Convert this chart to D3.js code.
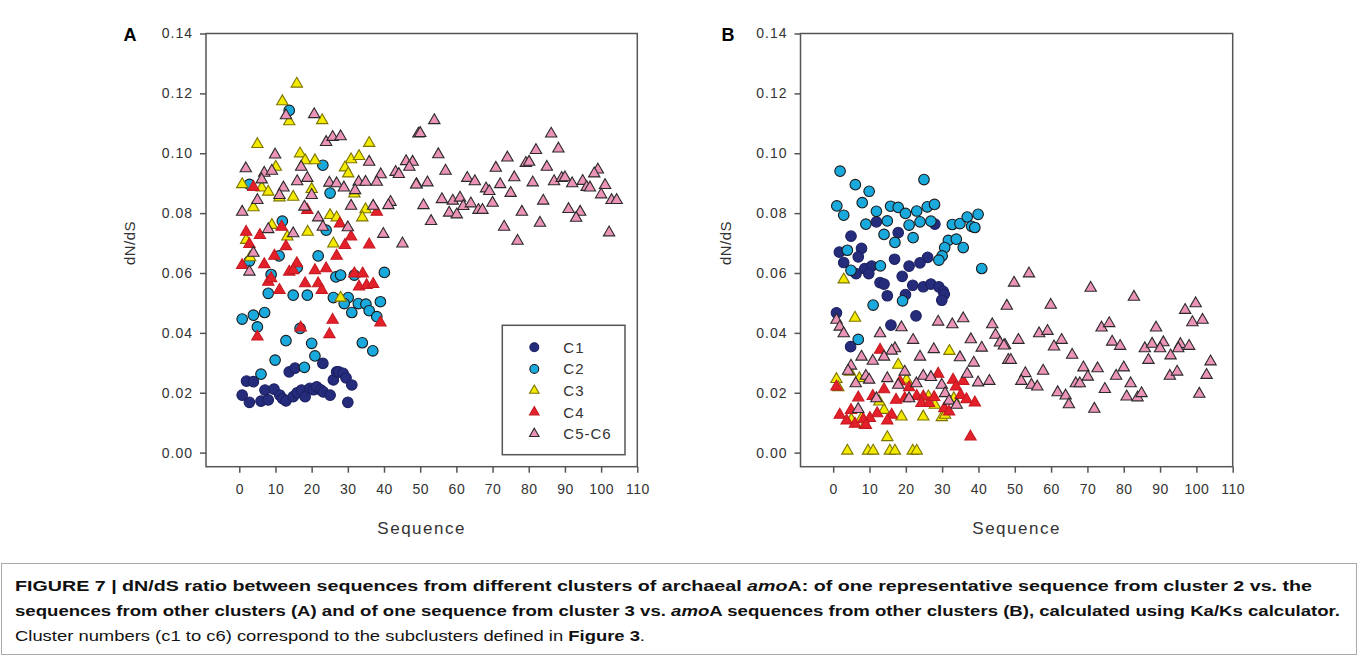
<!DOCTYPE html>
<meta charset="utf-8">
<style>
body { margin: 0; background: #fff; }
svg { font-family: "Liberation Sans", Arial, sans-serif; }
.frame { fill: none; stroke: #555; stroke-width: 1.5px; }
.axis path { display: none; }
.axis line { stroke: #555; stroke-width: 1.5px; }
.axis text { fill: #333; font-size: 14px; font-family: "Liberation Sans", Arial, sans-serif; }
.title { fill: #333; }
.cap { font-size: 15.5px; fill: #111; }
</style>
<svg width="1358" height="656"></svg>
<script src="https://cdn.jsdelivr.net/npm/d3@7"></script>
<script>

// ---- data (sequence, dN/dS) ----
var xTicks = [0, 10, 20, 30, 40, 50, 60, 70, 80, 90, 100, 110],
    yTicks = [0, 0.02, 0.04, 0.06, 0.08, 0.10, 0.12, 0.14],
    seriesNames = ["C1", "C2", "C3", "C4", "C5-C6"];

var aC1 = [[0.8,0.0192],[2.8,0.0168],[2.0,0.0239],[3.9,0.0237],[6.0,0.0172],[7.1,0.0209],[8.0,0.0176],[9.6,0.0212],[11.2,0.0192],[12.0,0.018],[12.9,0.0173],[13.8,0.0270],[15.4,0.0282],[14.9,0.0187],[16.0,0.020],[17.2,0.0209],[18.2,0.0187],[19.5,0.0215],[20.5,0.021],[21.4,0.0220],[22.5,0.021],[23.1,0.0298],[23.2,0.0203],[25.1,0.0192],[26.0,0.0243],[26.9,0.0270],[27.5,0.027],[28.7,0.0265],[29.5,0.025],[30.0,0.0168],[31.1,0.0226]];

var aC2 = [[13.8,0.1143],[23.1,0.0960],[2.8,0.0896],[25.1,0.0867],[11.9,0.0773],[24.0,0.0743],[11.0,0.0657],[16.0,0.0618],[21.8,0.0657],[2.8,0.0640],[8.8,0.0595],[26.7,0.0587],[28.0,0.0593],[31.8,0.0593],[40.1,0.0602],[8.0,0.0532],[14.9,0.0526],[18.8,0.0526],[26.0,0.0518],[30.1,0.0518],[29.0,0.0498],[32.9,0.0498],[35.0,0.0496],[39.0,0.0504],[31.1,0.0468],[35.9,0.0474],[38.0,0.0454],[0.8,0.0446],[3.9,0.0459],[7.0,0.0468],[5.0,0.0420],[16.8,0.0415],[12.9,0.0374],[20.0,0.0365],[34.0,0.0367],[36.9,0.0340],[20.9,0.0323],[9.9,0.0309],[18.0,0.0285],[6.0,0.0262]];

var aC3 = [[15.9,0.1232],[11.9,0.1173],[13.8,0.1106],[22.9,0.1110],[5.0,0.1030],[35.9,0.1034],[16.8,0.0999],[18.2,0.0976],[20.9,0.0976],[30.9,0.0979],[33.1,0.0990],[29.2,0.0952],[30.1,0.0932],[10.1,0.0954],[0.8,0.0896],[6.2,0.0885],[8.0,0.0871],[11.1,0.0852],[14.9,0.0854],[20.0,0.0880],[3.9,0.0819],[31.8,0.0865],[25.1,0.0793],[26.9,0.0785],[34.9,0.0812],[34.0,0.0785],[9.0,0.0760],[18.9,0.0737],[13.3,0.0721],[1.9,0.0710],[26.0,0.0698],[3.0,0.0652],[28.0,0.0517]];

var aC4 = [[3.9,0.0887],[18.8,0.0810],[38.0,0.0804],[27.8,0.0765],[11.7,0.0754],[1.9,0.0737],[5.7,0.0726],[30.9,0.0721],[12.9,0.0689],[2.8,0.0696],[29.2,0.0693],[35.9,0.0695],[26.9,0.0657],[9.7,0.0657],[0.8,0.0626],[6.9,0.0629],[13.8,0.0604],[15.9,0.0632],[14.9,0.0609],[20.9,0.0609],[24.0,0.0615],[31.8,0.0598],[34.1,0.0598],[8.0,0.0570],[8.8,0.0582],[11.1,0.0543],[18.2,0.0565],[21.8,0.0565],[22.8,0.0543],[33.1,0.0554],[35.2,0.0559],[37.0,0.0563],[25.8,0.0443],[24.9,0.0395],[17.0,0.0417],[5.0,0.0387],[39.0,0.0434]];

var aC56 = [[12.9,0.1126],[20.7,0.1130],[24.0,0.1037],[25.8,0.1054],[28.0,0.1056],[49.5,0.1065],[9.9,0.0995],[1.8,0.0949],[6.9,0.0934],[9.0,0.0941],[17.1,0.0954],[16.0,0.0906],[18.8,0.0917],[24.9,0.0901],[26.9,0.0899],[28.9,0.0885],[33.0,0.0904],[34.9,0.0904],[39.1,0.0929],[35.9,0.0971],[43.2,0.0937],[44.1,0.0930],[46.1,0.0973],[47.9,0.0971],[47.0,0.0954],[49.0,0.0896],[38.0,0.0904],[32.0,0.0876],[12.2,0.0885],[11.1,0.0860],[6.2,0.0912],[20.0,0.0860],[5.0,0.0843],[0.8,0.0804],[18.0,0.0821],[30.9,0.0824],[37.0,0.0824],[41.8,0.0837],[41.2,0.0826],[21.8,0.0785],[23.1,0.0754],[30.0,0.0752],[39.8,0.0730],[45.1,0.0698],[8.0,0.0746],[14.9,0.0732],[3.9,0.0667],[2.8,0.0604],
  [53.9,0.1110],[50.0,0.1067],[55.0,0.0996],[57.0,0.0941],[48.9,0.0895],[52.0,0.0902],[50.9,0.0826],[53.0,0.0773],[56.0,0.0846],[59.0,0.0841],[61.0,0.0851],[63.0,0.0917],[65.1,0.0906],[61.9,0.0823],[64.0,0.0832],[58.0,0.0801],[60.1,0.0795],[66.1,0.0810],[67.2,0.0810],[68.2,0.0882],[69.1,0.0873],[70.0,0.0834],[70.9,0.0951],[72.1,0.0896],[74.1,0.0985],[75.0,0.0867],[76.0,0.0919],[73.2,0.0754],[76.9,0.0707],[78.1,0.0804],[79.2,0.0967],[80.1,0.0971],[82.0,0.1010],[81.1,0.0902],[84.0,0.0841],[83.1,0.0767],[85.0,0.0954],[86.2,0.1065],[88.2,0.1015],[87.0,0.0906],[89.1,0.0917],[90.0,0.0919],[92.0,0.0899],[94.9,0.0907],[96.0,0.0887],[96.9,0.0885],[99.1,0.0945],[98.1,0.0932],[101.1,0.0893],[100.0,0.0862],[102.9,0.0843],[104.3,0.0843],[91.0,0.0813],[94.2,0.0804],[93.1,0.0784],[102.2,0.0735]];

var bC1 = [[11.9,0.0771],[28.0,0.0763],[4.9,0.0723],[17.9,0.0735],[1.7,0.0670],[7.8,0.0682],[6.9,0.0654],[2.9,0.0635],[16.9,0.0646],[26.0,0.0652],[23.9,0.0634],[20.9,0.0623],[8.7,0.0615],[10.6,0.0623],[9.8,0.0598],[6.3,0.0598],[19.0,0.0589],[12.9,0.0568],[14.0,0.0563],[21.9,0.0559],[24.8,0.0554],[26.9,0.0563],[29.1,0.0554],[30.3,0.0539],[30.6,0.0529],[14.9,0.0524],[19.9,0.0528],[29.9,0.0509],[0.9,0.0467],[22.8,0.0457],[15.9,0.0426],[4.8,0.0354]];

var bC2 = [[1.9,0.0940],[25.0,0.0912],[6.1,0.0895],[9.9,0.0873],[1.0,0.0824],[8.0,0.0835],[2.9,0.0793],[11.9,0.0806],[15.8,0.0823],[17.9,0.0819],[19.9,0.0799],[23.0,0.0807],[25.9,0.0821],[27.9,0.0829],[9.0,0.0763],[14.9,0.0774],[20.9,0.0760],[23.9,0.0771],[26.9,0.0773],[32.8,0.0762],[34.9,0.0765],[36.9,0.0787],[39.9,0.0796],[38.1,0.0756],[39.0,0.0752],[14.0,0.0729],[17.0,0.0702],[22.0,0.0718],[31.7,0.0709],[33.9,0.0713],[30.7,0.0685],[35.8,0.0685],[30.0,0.0657],[29.1,0.0643],[3.9,0.0676],[13.0,0.0624],[4.9,0.0609],[40.9,0.0615],[11.0,0.0493],[19.1,0.0507],[6.9,0.0378]];

var bC3 = [[2.9,0.0578],[6.0,0.0450],[32.0,0.0339],[17.9,0.0293],[0.9,0.0245],[1.4,0.0218],[4.6,0.0270],[7.2,0.0248],[20.2,0.0243],[26.2,0.0187],[28.0,0.0159],[33.2,0.0181],[14.0,0.0142],[12.7,0.0170],[18.8,0.0120],[24.8,0.0120],[29.9,0.0118],[30.8,0.0126],[8.7,0.0092],[7.8,0.0115],[5.0,0.0110],[14.9,0.0051],[3.9,0.0006],[9.6,0.0006],[11.0,0.0006],[15.6,0.0006],[17.0,0.0006],[21.9,0.0006],[23.0,0.0006]];

var bC4 = [[12.9,0.0343],[0.9,0.0220],[6.9,0.0184],[14.0,0.0211],[10.9,0.0189],[28.9,0.0263],[18.4,0.0237],[20.9,0.0218],[23.0,0.0189],[24.8,0.0187],[24.3,0.0165],[26.4,0.0165],[27.8,0.0185],[33.0,0.0243],[35.8,0.0239],[33.8,0.0220],[35.1,0.0192],[36.7,0.0178],[39.0,0.0167],[30.6,0.0148],[31.9,0.0137],[19.7,0.0181],[17.3,0.0176],[16.1,0.0126],[14.9,0.0107],[12.1,0.0131],[10.1,0.0115],[8.3,0.0111],[6.0,0.0096],[3.7,0.0107],[1.8,0.0126],[4.9,0.0142],[37.8,0.0053],[9.0,0.0092]];

var bC56 = [[0.9,0.0443],[1.8,0.0420],[2.9,0.0398],[18.8,0.0418],[12.9,0.0398],[28.9,0.0437],[32.8,0.0428],[35.8,0.0448],[43.8,0.0428],[44.7,0.0393],[45.9,0.0367],[47.3,0.0359],[37.9,0.0378],[22.0,0.0376],[17.0,0.0348],[16.1,0.0340],[27.7,0.0345],[40.9,0.0350],[7.8,0.0320],[10.9,0.0306],[14.0,0.0320],[23.9,0.0320],[34.9,0.0318],[38.7,0.0300],[48.2,0.0309],[4.9,0.0290],[4.1,0.0273],[19.7,0.0270],[36.9,0.0263],[9.0,0.0256],[6.2,0.0231],[9.9,0.0243],[14.9,0.0248],[24.8,0.0256],[26.9,0.0252],[17.9,0.0226],[22.9,0.0231],[29.9,0.0226],[39.9,0.0234],[43.0,0.0239],[11.9,0.0181],[20.9,0.0181],[30.8,0.0198],[31.9,0.0173],[34.0,0.0159],[6.9,0.0145],
  [53.9,0.0598],[49.8,0.0567],[70.9,0.0550],[82.8,0.0520],[47.8,0.0490],[59.9,0.0493],[99.8,0.0498],[96.9,0.0476],[98.9,0.0435],[101.7,0.0443],[47.0,0.0357],[51.0,0.0376],[56.7,0.0398],[59.0,0.0406],[62.9,0.0376],[60.8,0.0354],[73.9,0.0417],[76.0,0.0432],[88.9,0.0417],[76.8,0.0370],[79.0,0.0356],[85.8,0.0348],[87.8,0.0363],[90.9,0.0368],[90.0,0.0348],[92.9,0.0324],[95.6,0.0362],[98.0,0.0356],[95.0,0.0348],[86.8,0.0309],[48.9,0.0309],[65.8,0.0326],[57.8,0.0273],[52.9,0.0265],[51.8,0.0239],[54.6,0.0226],[56.2,0.0220],[68.9,0.0284],[72.8,0.0281],[70.1,0.0253],[66.8,0.0231],[67.9,0.0231],[80.0,0.0284],[77.9,0.0256],[81.9,0.0231],[74.8,0.0212],[61.8,0.0201],[64.0,0.0190],[64.9,0.0161],[71.9,0.0146],[80.8,0.0187],[83.8,0.0184],[84.9,0.0198],[92.7,0.0256],[94.7,0.0270],[100.8,0.0196],[102.8,0.0259],[103.9,0.0304]];

// ---- styling per series ----
var styles = [
  {shape: d3.symbolCircle,   size: 88, fill: "#262c7c", stroke: "#1c2163"},
  {shape: d3.symbolCircle,   size: 88, fill: "#19a9dc", stroke: "#1a1a1a"},
  {shape: d3.symbolTriangle, size: 56, fill: "#f3ea00", stroke: "#7d7400"},
  {shape: d3.symbolTriangle, size: 56, fill: "#e4202a", stroke: "#c51a22"},
  {shape: d3.symbolTriangle, size: 56, fill: "#ec93b8", stroke: "#2a2a2a"}
];

var svg = d3.select("svg");

function drawPanel(opt, data) {
  var x = d3.scaleLinear().domain([opt.xmin, 110]).range([opt.left, opt.right]),
      y = d3.scaleLinear().domain([-0.0047, 0.14]).range([466.7, 33.5]);

  var g = svg.append("g");

  g.append("g")
      .attr("class", "axis")
      .attr("transform", "translate(" + opt.left + ",0)")
      .call(d3.axisLeft(y).tickValues(yTicks).tickSize(6).tickPadding(7).tickFormat(d3.format(".2f")))
    .selectAll("text")
      .style("letter-spacing", "1px");

  g.append("g")
      .attr("class", "axis")
      .attr("transform", "translate(0,466.7)")
      .call(d3.axisBottom(x).tickValues(xTicks).tickSize(6).tickPadding(11))
    .selectAll("text")
      .style("letter-spacing", "0.5px");

  g.append("rect")
      .attr("class", "frame")
      .attr("x", opt.left)
      .attr("y", 33.5)
      .attr("width", opt.right - opt.left)
      .attr("height", 466.7 - 33.5);

  data.forEach(function(pts, i) {
    var s = styles[i];
    g.append("g").selectAll("path")
        .data(pts)
      .enter().append("path")
        .attr("transform", function(d) { return "translate(" + x(d[0]) + "," + y(d[1]) + ")"; })
        .attr("d", d3.symbol(s.shape, s.size))
        .attr("fill", s.fill)
        .attr("stroke", s.stroke)
        .attr("stroke-width", 1.1);
  });

  g.append("text")
      .attr("class", "title")
      .attr("x", (opt.left + opt.right) / 2)
      .attr("y", 534)
      .attr("text-anchor", "middle")
      .style("font-size", "17px")
      .style("letter-spacing", "1.5px")
      .text("Sequence");

  g.append("text")
      .attr("class", "title")
      .attr("transform", "translate(" + (opt.ylab + 5) + ",243) rotate(-90)")
      .attr("text-anchor", "middle")
      .style("font-size", "15px")
      .style("letter-spacing", "0.5px")
      .text("dN/dS");

  g.append("text")
      .attr("x", opt.letter)
      .attr("y", 41)
      .attr("text-anchor", "middle")
      .style("font-size", "18px")
      .style("font-weight", "bold")
      .text(opt.label);

  return {x: x, y: y, g: g};
}

var pa = drawPanel({left: 206, right: 637.3, xmin: -9.2, ylab: 130, letter: 130, label: "A"},
                   [aC1, aC2, aC3, aC4, aC56]);
drawPanel({left: 800.5, right: 1232.7, xmin: -9.0, ylab: 726, letter: 728, label: "B"},
          [bC1, bC2, bC3, bC4, bC56]);

// legend (panel A)
var legend = svg.append("g");
legend.append("rect")
    .attr("x", 502.3).attr("y", 325.3)
    .attr("width", 122.7).attr("height", 129.4)
    .attr("fill", "#fff").attr("stroke", "#555").attr("stroke-width", 1.5);

var item = legend.selectAll(".item")
    .data(seriesNames)
  .enter().append("g")
    .attr("transform", function(d, i) { return "translate(534.3," + (347.3 + i * 21.6) + ")"; });

item.append("path")
    .attr("d", function(d, i) { return d3.symbol(styles[i].shape, styles[i].size * 0.7)(); })
    .attr("fill", function(d, i) { return styles[i].fill; })
    .attr("stroke", function(d, i) { return styles[i].stroke; })
    .attr("stroke-width", 1.1);

item.append("text")
    .attr("x", 29)
    .attr("y", 5.5)
    .attr("fill", "#333")
    .style("font-size", "15px")
    .style("letter-spacing", "1px")
    .text(function(d) { return d; });

// caption
svg.append("rect")
    .attr("x", 1.5).attr("y", 563.5)
    .attr("width", 1355).attr("height", 91)
    .attr("fill", "none").attr("stroke", "#aaa");

var l1 = svg.append("text").attr("class", "cap").attr("x", 15).attr("y", 591)
    .attr("textLength", 1297).attr("lengthAdjust", "spacingAndGlyphs")
    .style("font-weight", "bold");
l1.append("tspan").text("FIGURE 7 | dN/dS ratio between sequences from different clusters of archaeal ");
l1.append("tspan").style("font-style", "italic").text("amo");
l1.append("tspan").text("A: of one representative sequence from cluster 2 vs. the");

var l2 = svg.append("text").attr("class", "cap").attr("x", 15).attr("y", 616)
    .attr("textLength", 1325).attr("lengthAdjust", "spacingAndGlyphs")
    .style("font-weight", "bold");
l2.append("tspan").text("sequences from other clusters (A) and of one sequence from cluster 3 vs. ");
l2.append("tspan").style("font-style", "italic").text("amo");
l2.append("tspan").text("A sequences from other clusters (B), calculated using Ka/Ks calculator.");

var l3 = svg.append("text").attr("class", "cap").attr("x", 15).attr("y", 641)
    .attr("textLength", 630).attr("lengthAdjust", "spacingAndGlyphs")
    .attr("fill", "#333");
l3.append("tspan").text("Cluster numbers (c1 to c6) correspond to the subclusters defined in ");
l3.append("tspan").style("font-weight", "bold").text("Figure 3");
l3.append("tspan").text(".");

</script>
